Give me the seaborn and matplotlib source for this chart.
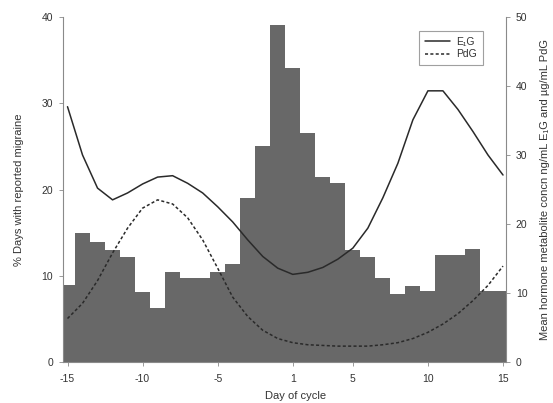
import matplotlib
matplotlib.use("Agg")
import matplotlib.pyplot as plt
import seaborn as sns
import pandas as pd
import numpy as np

# ---- data ----
days = list(range(-15, 0)) + list(range(1, 16))
migraine_pct = [8.9, 14.9, 13.9, 13.0, 12.2, 8.1, 6.3, 10.4, 9.7, 9.7,
                10.4, 11.4, 19.0, 25.0, 39.1, 34.1, 26.5, 21.5, 20.7, 13.0,
                12.2, 9.7, 7.9, 8.8, 8.2, 12.4, 12.4, 13.1, 8.2, 8.2]
e1g = [37.0, 30.0, 25.2, 23.5, 24.5, 25.8, 26.8, 27.0, 25.9, 24.5,
       22.5, 20.3, 17.7, 15.3, 13.6, 12.7, 13.0, 13.7, 14.9, 16.5,
       19.4, 23.8, 28.8, 35.1, 39.3, 39.3, 36.6, 33.4, 30.0, 27.1]
pdg = [6.3, 8.5, 11.8, 15.8, 19.4, 22.3, 23.5, 22.9, 20.9, 17.7,
       13.6, 9.4, 6.6, 4.6, 3.4, 2.8, 2.5, 2.4, 2.3, 2.3,
       2.3, 2.5, 2.8, 3.4, 4.3, 5.5, 7.0, 8.9, 11.1, 13.9]
tick_days = [-15, -10, -5, 1, 5, 10, 15]
left_ticks = [0, 10, 20, 30, 40]
right_ticks = [0, 10, 20, 30, 40, 50]

pos = list(range(len(days)))
df = pd.DataFrame({"pos": pos, "day": days, "pct": migraine_pct,
                   "E1G": e1g, "PdG": pdg})

sns.set_theme(style="white")
plt.rcParams["font.family"] = ["Liberation Sans", "DejaVu Sans"]
txt = "#333333"
spine_c = "#8a8a8a"

fig = plt.figure(figsize=(5.53, 4.03), dpi=100)
ax = fig.add_axes([63 / 553, 1 - 362 / 403, (506 - 63) / 553, (362 - 17) / 403])

sns.barplot(data=df, x="pos", y="pct", native_scale=True, width=1.0,
            color="#686868", saturation=1, linewidth=0, edgecolor="none", ax=ax)
for p in ax.patches:
    p.set_facecolor("#686868")

ax.set_xlim(-0.3, 29.2)
ax.set_ylim(0, 40)
ax.set_yticks(left_ticks)
ax.set_yticklabels([str(t) for t in left_ticks])
ax.set_xticks([days.index(d) for d in tick_days])
ax.set_xticklabels([str(d) for d in tick_days])
ax.set_xlabel("Day of cycle", fontsize=8, color=txt)
ax.xaxis.set_label_coords(0.525, -0.083)
ax.set_ylabel("% Days with reported migraine", fontsize=8, color=txt, labelpad=13)

ax2 = ax.twinx()
long = pd.DataFrame({
    "pos": pos + pos,
    "val": e1g + pdg,
    "series": ["E\u2081G"] * len(pos) + ["PdG"] * len(pos),
})
sns.lineplot(data=long, x="pos", y="val", style="series",
             dashes={"E\u2081G": "", "PdG": (2, 1.5)},
             color="#2a2a2a", linewidth=1.1, ax=ax2)
ax2.set_ylim(0, 50)
ax2.set_yticks(right_ticks)
ax2.set_yticklabels([str(t) for t in right_ticks])
ax2.set_xlim(-0.3, 29.2)
ax2.set_ylabel("Mean hormone metabolite concn ng/mL E\u2081G and \u00b5g/mL PdG",
               fontsize=8, color=txt, labelpad=9)

leg = ax2.legend(loc="upper right", bbox_to_anchor=(0.96, 0.975), fontsize=7.5,
                 frameon=True, fancybox=False, handlelength=2.4,
                 borderpad=0.6, labelspacing=0.2, handletextpad=0.6)
leg.get_frame().set_edgecolor("#888888")
leg.get_frame().set_linewidth(0.8)
for t in leg.get_texts():
    t.set_color(txt)

for a in (ax, ax2):
    a.spines["top"].set_visible(False)
    for s in ("left", "right", "bottom"):
        a.spines[s].set_color(spine_c)
        a.spines[s].set_linewidth(0.8)
    a.tick_params(axis="both", direction="out", length=3, width=0.6,
                  colors=spine_c, labelcolor=txt, labelsize=7.5, pad=4)
ax.tick_params(axis="x", pad=6)
ax.spines["right"].set_visible(False)
ax2.spines["left"].set_visible(False)
ax2.spines["bottom"].set_visible(False)
ax.tick_params(axis="y", left=True, right=False)
ax.tick_params(axis="x", bottom=True)
ax2.tick_params(axis="y", right=True, left=False)
ax2.set_xlabel("")

fig.savefig("out.png", dpi=100)
